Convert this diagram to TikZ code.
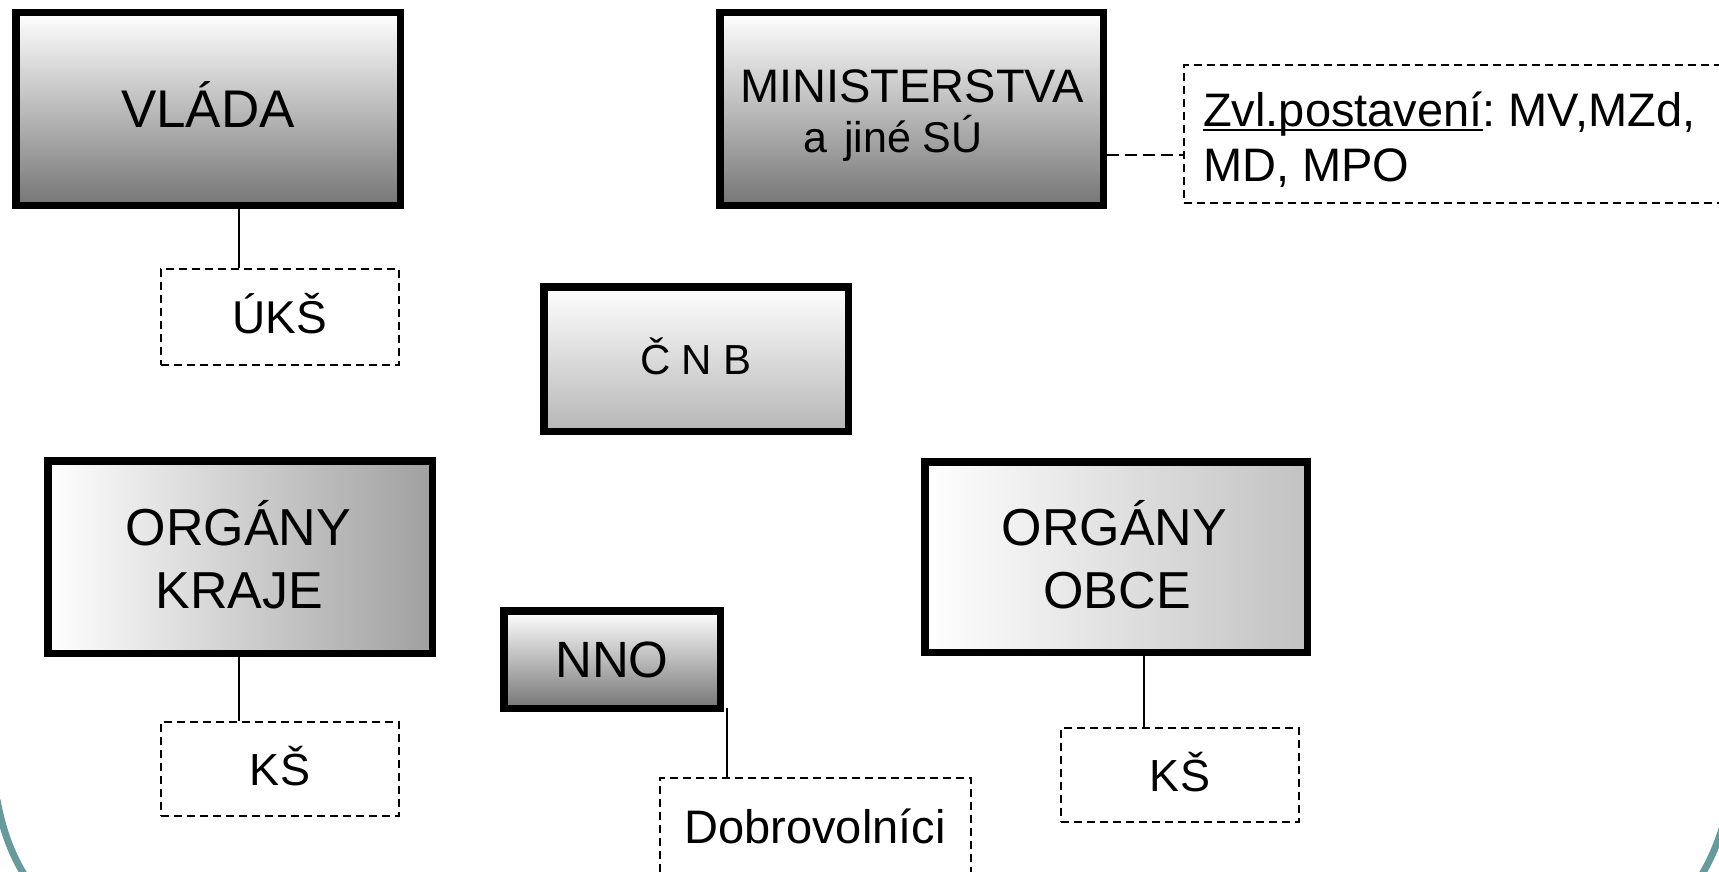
\documentclass[tikz,border=0pt]{standalone}
\usepackage{fontspec}
\setmainfont{Liberation Sans}
\frenchspacing
\newcommand\zvunder[1]{\setbox0\hbox{#1}\rlap{\rule[-4.5pt]{\wd0}{2.8pt}}\box0}
\definecolor{darkg}{RGB}{118,118,118}
\definecolor{midg}{RGB}{182,182,182}
\definecolor{krajeg}{RGB}{160,160,160}
\definecolor{obceg}{RGB}{194,194,194}
\definecolor{tealarc}{RGB}{102,155,155}
\begin{document}
\begin{tikzpicture}[x=1pt,y=-1pt,
  bigbox/.style={draw=black, line width=7.5pt, rectangle, inner sep=0pt, text height=#1, text depth=0pt},
  bigbox/.default={0pt},
  dbox/.style={draw=black, line width=2pt, dash pattern=on 8pt off 5pt, rectangle, inner sep=0pt},
  conn/.style={line width=1.8pt},
  dconn/.style={line width=1.8pt, dash pattern=on 12pt off 6pt},
  arcline/.style={draw=tealarc, line width=7pt},
  lbl/.style={inner sep=0pt, anchor=base}
]
\useasboundingbox (0,0) rectangle (1719,872);
\clip (0,0) rectangle (1719,872);

% background arcs
\draw[arcline] (-3,800) .. controls (3,832) and (12,855) .. (25,876);
\draw[arcline] (1723,826) .. controls (1717,845) and (1710,861) .. (1701,876);

% main boxes
\node[bigbox=37.9pt, top color=white, bottom color=darkg, minimum width=384.5pt, minimum height=192.5pt,
      font=\fontsize{53}{63}\selectfont] (vlada) at (208,109) {VLÁDA};
\node[bigbox, top color=white, bottom color=darkg, minimum width=383.5pt, minimum height=192.5pt] (mini) at (911.5,109) {};
\node[lbl, font=\fontsize{47}{55}\selectfont] (miniA) at (912,103) {MINISTERSTVA};
\node[lbl, font=\fontsize{43}{50}\selectfont] (miniB) at (893,153) {a\hspace{17pt}jiné SÚ};

\node[bigbox=30pt, top color=white, bottom color=midg, minimum width=304.5pt, minimum height=144.5pt,
      font=\fontsize{42}{50}\selectfont] (cnb) at (696,359) {Č N B};

\node[bigbox, left color=white, right color=krajeg, minimum width=384.5pt, minimum height=192.5pt] (kraje) at (240,557) {};
\node[lbl, font=\fontsize{52}{63}\selectfont] (krajeA) at (238.5,545) {ORGÁNY};
\node[lbl, font=\fontsize{52}{63}\selectfont] (krajeB) at (239.5,608) {KRAJE};

\node[bigbox=36.5pt, top color=white, bottom color=darkg, minimum width=216.5pt, minimum height=97.5pt,
      font=\fontsize{51}{60}\selectfont] (nno) at (612,659.5) {NNO};

\node[bigbox, left color=white, right color=obceg, minimum width=382.5pt, minimum height=190.5pt] (obce) at (1116,557) {};
\node[lbl, font=\fontsize{52}{63}\selectfont] (obceA) at (1114.5,545) {ORGÁNY};
\node[lbl, font=\fontsize{52}{63}\selectfont] (obceB) at (1117,608) {OBCE};

% dashed boxes
\node[dbox, minimum width=238pt, minimum height=96pt, text height=33pt, text depth=0pt,
      font=\fontsize{46}{55}\selectfont] (uks) at (280,317) {ÚKŠ};
\node[dbox, minimum width=238pt, minimum height=94pt, text height=32.5pt, text depth=0pt,
      font=\fontsize{45}{54}\selectfont] (ks1) at (280,769) {KŠ};
\node[dbox, minimum width=238pt, minimum height=94pt, text height=32.5pt, text depth=0pt,
      font=\fontsize{45}{54}\selectfont] (ks2) at (1180,775) {KŠ};
\node[dbox, minimum width=590pt, minimum height=138pt] (zvl) at (1479,134) {};
\node[lbl, anchor=base west, font=\fontsize{47}{55}\selectfont] (zvlA) at (1203,127) {\zvunder{Zvl.postavení}: MV,MZd,};
\node[lbl, anchor=base west, font=\fontsize{47}{55}\selectfont] (zvlB) at (1203,182) {MD, MPO};
\node[dbox, minimum width=311pt, minimum height=150pt] (dobro) at (815.5,853) {};
\node[lbl, font=\fontsize{47}{55}\selectfont] (dobroT) at (815,843) {Dobrovolníci};

% connectors
\draw[conn] (vlada.south -| 239,0) -- (uks.north -| 239,0);
\draw[conn] (kraje.south -| 239,0) -- (ks1.north -| 239,0);
\draw[conn] (obce.south -| 1144,0) -- (ks2.north -| 1144,0);
\coordinate (nnoc) at (727,708);
\draw[conn] (nnoc) -- (nnoc |- dobro.north);
\coordinate (minic) at (1107,155);
\draw[dconn] (minic) -- (minic -| zvl.west);
\end{tikzpicture}
\end{document}
